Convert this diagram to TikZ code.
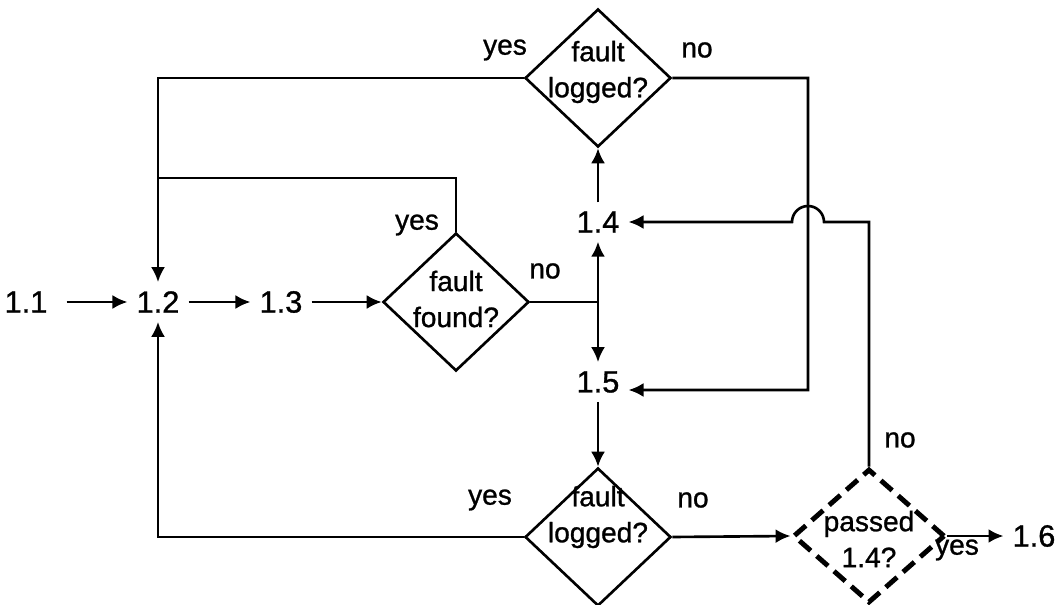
\documentclass[tikz,border=0pt]{standalone}
\usepackage{fontspec}
\setmainfont[FakeBold=1]{Liberation Sans}
\usetikzlibrary{shapes.geometric,arrows.meta}

\begin{document}
\begin{tikzpicture}[
    x=0.02cm, y=-0.02cm,
    every node/.style={font=\fontsize{16}{20.5}\selectfont},
    num/.style={font=\fontsize{17.5}{20}\selectfont, inner sep=5pt},
    dia/.style={
      draw, diamond, line width=1.5pt, inner sep=0pt,
      minimum width=2.92cm, minimum height=2.76cm,
    },
    dashdia/.style={
      dia, line width=2.8pt, dash pattern=on 0.3cm off 0.16cm,
      minimum width=3.04cm, minimum height=2.68cm,
    },
    qtxt/.style={align=center, inner sep=0pt},
    lbl/.style={inner sep=0pt},
    wire/.style={line width=1.5pt},
    flow/.style={wire, -{Latex[length=0.3cm, width=0.28cm]}},
  ]
  \useasboundingbox (0,0) rectangle (1063,605);

  % steps
  \node[num] (n11) at (26,302)   {1.1};
  \node[num] (n12) at (158,302)  {1.2};
  \node[num] (n13) at (281,302)  {1.3};
  \node[num] (n14) at (598,222)  {1.4};
  \node[num] (n15) at (598,382)  {1.5};
  \node[num] (n16) at (1034,536) {1.6};

  % decisions
  \node[dia] (logtop) at (598,78)  {};
  \node[dia] (found)  at (456,302) {};
  \node[dia] (logbot) at (598,537) {};
  \node[dashdia] (passed) at (869,536) {};
  \node[qtxt] (tlogtop) at (598,72)  {fault\\logged?};
  \node[qtxt] (tfound)  at (456,299) {fault\\found?};
  \node[qtxt] (tlogbot) at (598,517) {fault\\logged?};
  \node[qtxt] (tpassed) at (869,539) {passed\\1.4?};

  \coordinate (merge) at (158,178);
  \coordinate (j) at (598,302);
  \coordinate (c15) at (808,390);

  % main line
  \draw[flow, shorten <=0.2cm] (n11) -- (n12);
  \draw[flow] (n12) -- (n13);
  \draw[flow] (n13) -- (found.west);
  \draw[wire] (found.east) -- (j);
  \draw[flow] (j) -- (n14);
  \draw[flow] (j) -- (n15);
  \draw[flow] (n14) -- (logtop.south);
  \draw[flow] (n15) -- (logbot.north);

  % loops back
  \draw[flow] (logtop.west) -| (n12.north);
  \draw[wire] (found.north) |- (merge);
  \draw[flow] (logbot.west) -| (n12.south);
  \draw[flow] (logtop.east) -| (c15) -- ([yshift=-0.16cm]n15.east);
  \draw[flow] (logbot.east) -- (passed.west);
  \draw[flow] (passed.east) -- (n16);
  \draw[flow] (passed.north) |- (824,222)
    arc[start angle=0, end angle=180, radius=0.32cm] -- (n14.east);

  % branch labels
  \node[lbl] (ytop)   at (505,50)  {yes};
  \node[lbl] (ntop)   at (697,50)  {no};
  \node[lbl] (yfound) at (417,225) {yes};
  \node[lbl] (nfound) at (545,271) {no};
  \node[lbl] (ybot)   at (490,500) {yes};
  \node[lbl] (nbot)   at (693,500) {no};
  \node[lbl] (npass)  at (900,440) {no};
  \node[lbl] (ypass)  at (957,550) {yes};
\end{tikzpicture}
\end{document}
